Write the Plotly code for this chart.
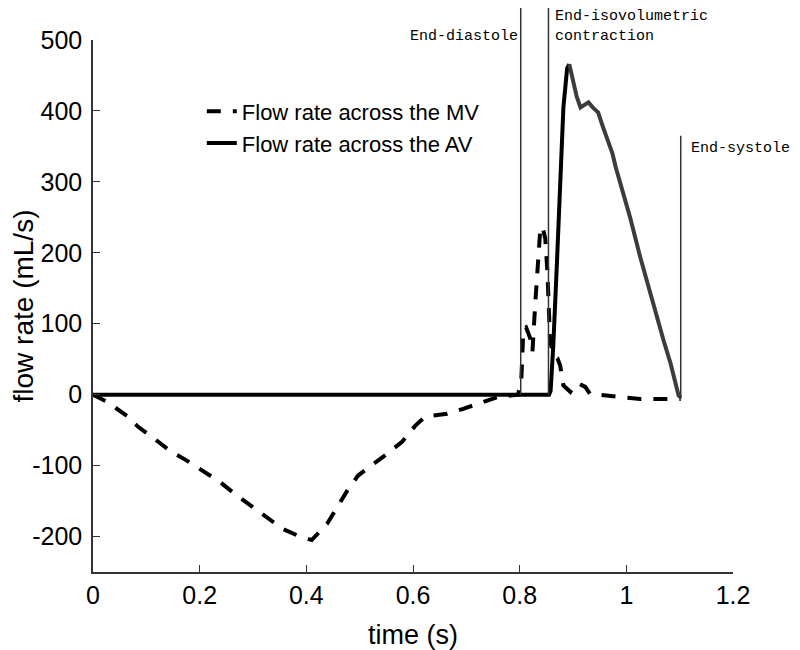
import plotly.graph_objects as go

# ---- data ----
time_mv = [0.000, 0.026, 0.064, 0.084, 0.120, 0.144, 0.176, 0.206, 0.238, 0.266,
           0.298, 0.326, 0.355, 0.385, 0.410, 0.439, 0.458, 0.477, 0.497, 0.523,
           0.552, 0.580, 0.604, 0.623, 0.664, 0.694, 0.732, 0.760, 0.797, 0.803,
           0.807, 0.812, 0.820, 0.824, 0.829, 0.833, 0.839, 0.844, 0.848, 0.852,
           0.854, 0.857, 0.864, 0.871, 0.876, 0.882, 0.895, 0.903, 0.910, 0.923,
           0.932, 0.964, 1.000, 1.026, 1.060, 1.088, 1.102]
flow_mv = [0, -10, -30, -45, -65, -79, -93, -107, -123, -140,
           -157, -172, -189, -199, -205, -182, -158, -135, -114, -100,
           -83, -66, -44, -31, -27, -20, -10, -3, 0, 20,
           93, 95, 79, 61, 126, 178, 237, 233, 220, 174,
           117, 75, 55, 51, 41, 13, 4, 14, 16, 11,
           1, -1, -4, -6, -6, -6, -6]

time_av = [0.000, 0.855, 0.858, 0.863, 0.870, 0.876, 0.882, 0.889, 0.893, 0.900,
           0.907, 0.914, 0.922, 0.929, 0.937, 0.947, 0.955, 0.964, 0.974, 0.980,
           0.995, 1.007, 1.026, 1.042, 1.058, 1.070, 1.083, 1.098, 1.102]
flow_av = [0, 0, 5, 69, 188, 305, 405, 460, 466, 445,
           420, 405, 408, 412, 405, 398, 380, 359, 340, 321,
           284, 250, 194, 150, 109, 76, 44, -1, -4]

event_times = [0.802, 0.854, 1.102]
event_top = [549, 556, 365]
event_bottom = [0, 0, -6]
event_labels = ["End-diastole", "End-isovolumetric<br>contraction", "End-systole"]
event_label_y = [505, 519, 347]

x_ticks = [0, 0.2, 0.4, 0.6, 0.8, 1.0, 1.2]
x_ticktext = ["0", "0.2", "0.4", "0.6", "0.8", "1", "1.2"]
y_ticks = [-200, -100, 0, 100, 200, 300, 400, 500]
y_ticktext = ["-200", "-100", "0", "100", "200", "300", "400", "500"]
x_range = [0, 1.2]
y_range = [-250, 500]

# ---- figure ----
peak_idx = flow_av.index(max(flow_av))
span = y_range[1] - y_range[0]


def to_paper(v):
    return (v - y_range[0]) / span


fig = go.Figure()
fig.add_trace(go.Scatter(
    x=time_mv, y=flow_mv, mode="lines", name="Flow rate across the MV",
    line=dict(color="black", width=4, dash="14px,12px"),
))
fig.add_trace(go.Scatter(
    x=time_av[:peak_idx + 1], y=flow_av[:peak_idx + 1], mode="lines",
    name="Flow rate across the AV",
    line=dict(color="black", width=4),
))
fig.add_trace(go.Scatter(
    x=time_av[peak_idx:], y=flow_av[peak_idx:], mode="lines",
    showlegend=False, line=dict(color="#3c3c3c", width=4),
))

for t, top, bot in zip(event_times, event_top, event_bottom):
    fig.add_shape(type="line", xref="x", yref="paper",
                  x0=t, x1=t, y0=to_paper(bot), y1=to_paper(top),
                  line=dict(color="#333333", width=1.5))

mono = dict(family="Liberation Mono, Courier New, monospace", size=15, color="black")
fig.add_annotation(x=event_times[0], y=to_paper(event_label_y[0]), xref="x", yref="paper",
                   text=event_labels[0], showarrow=False, xanchor="right",
                   yanchor="middle", xshift=-1, font=mono)
fig.add_annotation(x=event_times[1], y=to_paper(event_label_y[1]), xref="x", yref="paper",
                   text=event_labels[1], showarrow=False, xanchor="left",
                   yanchor="middle", xshift=5, align="left", font=mono)
fig.add_annotation(x=event_times[2], y=to_paper(event_label_y[2]), xref="x", yref="paper",
                   text=event_labels[2], showarrow=False, xanchor="left",
                   yanchor="middle", xshift=8, font=mono)

axis_common = dict(showline=True, linecolor="#333333", linewidth=1.5,
                   ticks="inside", ticklen=7, tickwidth=1.2, tickcolor="#333333",
                   showgrid=False, zeroline=False, mirror=False, automargin=False,
                   tickfont=dict(size=25, color="black"))

fig.update_layout(
    width=792, height=642,
    margin=dict(l=85, r=67, t=32, b=78, autoexpand=False),
    paper_bgcolor="white", plot_bgcolor="white",
    font=dict(family="Liberation Sans, Arial, sans-serif", color="black"),
    xaxis=dict(range=x_range, tickvals=x_ticks, ticktext=x_ticktext,
               title=dict(text="time (s)", font=dict(size=27), standoff=17),
               **axis_common),
    yaxis=dict(range=y_range, tickvals=y_ticks, ticktext=y_ticktext,
               ticklabelstandoff=4,
               title=dict(text="flow rate (mL/s)", font=dict(size=28), standoff=27),
               **axis_common),
    legend=dict(x=0.17, y=0.905, xanchor="left", yanchor="top",
                bgcolor="rgba(0,0,0,0)", font=dict(size=22),
                tracegroupgap=0),
    showlegend=True,
)

fig.write_html("out.html")
